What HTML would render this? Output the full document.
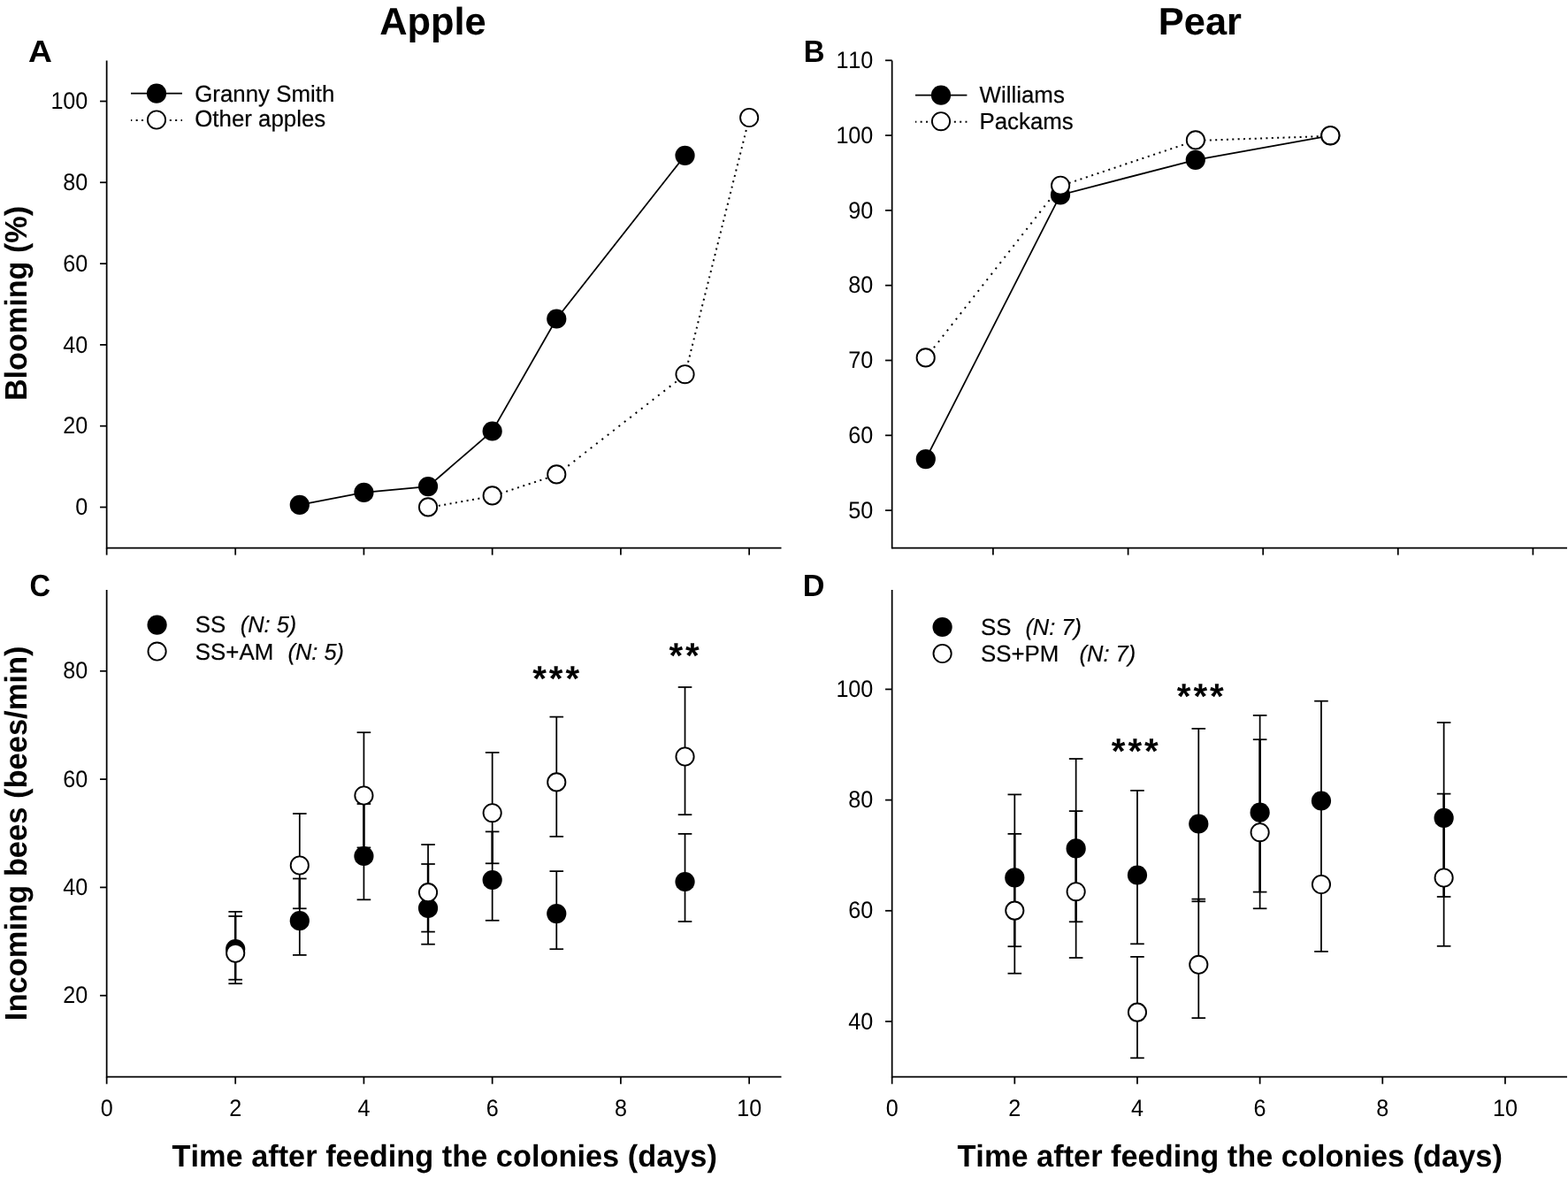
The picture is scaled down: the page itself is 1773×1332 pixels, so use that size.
<!DOCTYPE html>
<html lang="en">
<head>
<meta charset="utf-8">
<title>Blooming and incoming bees - Apple and Pear</title>
<style>
html,body{margin:0;padding:0;background:#fff;}
body{width:1773px;height:1332px;overflow:hidden;}
svg{display:block;font-family:"Liberation Sans", Arial, Helvetica, sans-serif;}
svg text{fill:#000;font-kerning:none;font-variant-ligatures:none;text-rendering:geometricPrecision;}
</style>
</head>
<body>
<svg width="1773" height="1332" viewBox="0 0 1773 1332">
<rect x="0" y="0" width="1773" height="1332" fill="#fff"/>
<line x1="120.65" y1="68.40" x2="120.65" y2="620.48" stroke="#000" stroke-width="1.75" />
<line x1="120.65" y1="619.60" x2="883.50" y2="619.60" stroke="#000" stroke-width="1.75" />
<line x1="113.05" y1="573.50" x2="120.65" y2="573.50" stroke="#000" stroke-width="1.75" />
<text transform="translate(99.15,582.15) scale(0.936,1)" font-size="26.9" text-anchor="end">0</text>
<line x1="113.05" y1="481.70" x2="120.65" y2="481.70" stroke="#000" stroke-width="1.75" />
<text transform="translate(99.15,490.35) scale(0.936,1)" font-size="26.9" text-anchor="end" letter-spacing="-0.1">20</text>
<line x1="113.05" y1="389.90" x2="120.65" y2="389.90" stroke="#000" stroke-width="1.75" />
<text transform="translate(99.15,398.55) scale(0.936,1)" font-size="26.9" text-anchor="end" letter-spacing="-0.1">40</text>
<line x1="113.05" y1="298.10" x2="120.65" y2="298.10" stroke="#000" stroke-width="1.75" />
<text transform="translate(99.15,306.75) scale(0.936,1)" font-size="26.9" text-anchor="end" letter-spacing="-0.1">60</text>
<line x1="113.05" y1="206.30" x2="120.65" y2="206.30" stroke="#000" stroke-width="1.75" />
<text transform="translate(99.15,214.95) scale(0.936,1)" font-size="26.9" text-anchor="end" letter-spacing="-0.1">80</text>
<line x1="113.05" y1="114.50" x2="120.65" y2="114.50" stroke="#000" stroke-width="1.75" />
<text transform="translate(99.15,123.15) scale(0.936,1)" font-size="26.9" text-anchor="end" letter-spacing="-0.1">100</text>
<line x1="120.65" y1="619.60" x2="120.65" y2="627.60" stroke="#000" stroke-width="1.75" />
<line x1="266.19" y1="619.60" x2="266.19" y2="627.60" stroke="#000" stroke-width="1.75" />
<line x1="411.43" y1="619.60" x2="411.43" y2="627.60" stroke="#000" stroke-width="1.75" />
<line x1="556.67" y1="619.60" x2="556.67" y2="627.60" stroke="#000" stroke-width="1.75" />
<line x1="701.91" y1="619.60" x2="701.91" y2="627.60" stroke="#000" stroke-width="1.75" />
<line x1="847.15" y1="619.60" x2="847.15" y2="627.60" stroke="#000" stroke-width="1.75" />
<polyline points="338.81,570.90 411.43,556.90 484.05,550.10 556.67,487.50 629.29,360.50 774.53,175.80" fill="none" stroke="#000" stroke-width="1.75"/>
<line x1="484.05" y1="574.00" x2="556.67" y2="561.00" stroke="#000" stroke-width="2.0" stroke-dasharray="2.0 4.461" stroke-dashoffset="0.939"/>
<line x1="556.67" y1="561.00" x2="629.29" y2="537.00" stroke="#000" stroke-width="2.0" stroke-dasharray="2.0 4.698" stroke-dashoffset="-3.013"/>
<line x1="629.29" y1="537.00" x2="774.53" y2="423.80" stroke="#000" stroke-width="2.0" stroke-dasharray="2.0 6.064" stroke-dashoffset="-0.357"/>
<line x1="774.53" y1="423.80" x2="847.15" y2="133.60" stroke="#000" stroke-width="2.0" stroke-dasharray="2.0 4.556" stroke-dashoffset="-1.371"/>
<circle cx="338.81" cy="570.90" r="11.1" fill="#000"/>
<circle cx="411.43" cy="556.90" r="11.1" fill="#000"/>
<circle cx="484.05" cy="550.10" r="11.1" fill="#000"/>
<circle cx="556.67" cy="487.50" r="11.1" fill="#000"/>
<circle cx="629.29" cy="360.50" r="11.1" fill="#000"/>
<circle cx="774.53" cy="175.80" r="11.1" fill="#000"/>
<circle cx="484.05" cy="573.40" r="10.1" fill="#fff" stroke="#000" stroke-width="1.9"/>
<circle cx="556.67" cy="560.40" r="10.1" fill="#fff" stroke="#000" stroke-width="1.9"/>
<circle cx="629.29" cy="536.40" r="10.1" fill="#fff" stroke="#000" stroke-width="1.9"/>
<circle cx="774.53" cy="423.20" r="10.1" fill="#fff" stroke="#000" stroke-width="1.9"/>
<circle cx="847.15" cy="133.00" r="10.1" fill="#fff" stroke="#000" stroke-width="1.9"/>
<line x1="148.00" y1="105.70" x2="206.00" y2="105.70" stroke="#000" stroke-width="1.75" />
<circle cx="177.00" cy="105.70" r="11.1" fill="#000"/>
<line x1="148.00" y1="136.10" x2="206.00" y2="136.10" stroke="#000" stroke-width="2.0" stroke-dasharray="2.0 4.360" stroke-dashoffset="0.700"/>
<circle cx="177.00" cy="135.50" r="10.1" fill="#fff" stroke="#000" stroke-width="1.9"/>
<text transform="translate(220.20,114.70) scale(0.9875,1)" font-size="26.2" stroke="#000" stroke-width="0.2">Granny Smith</text>
<text transform="translate(220.20,143.30) scale(0.9875,1)" font-size="26.2" stroke="#000" stroke-width="0.2">Other apples</text>
<line x1="1008.65" y1="68.40" x2="1008.65" y2="620.48" stroke="#000" stroke-width="1.75" />
<line x1="1008.65" y1="619.60" x2="1772.00" y2="619.60" stroke="#000" stroke-width="1.75" />
<line x1="1001.05" y1="577.10" x2="1008.65" y2="577.10" stroke="#000" stroke-width="1.75" />
<text transform="translate(987.15,585.75) scale(0.936,1)" font-size="26.9" text-anchor="end" letter-spacing="-0.1">50</text>
<line x1="1001.05" y1="492.30" x2="1008.65" y2="492.30" stroke="#000" stroke-width="1.75" />
<text transform="translate(987.15,500.95) scale(0.936,1)" font-size="26.9" text-anchor="end" letter-spacing="-0.1">60</text>
<line x1="1001.05" y1="407.50" x2="1008.65" y2="407.50" stroke="#000" stroke-width="1.75" />
<text transform="translate(987.15,416.15) scale(0.936,1)" font-size="26.9" text-anchor="end" letter-spacing="-0.1">70</text>
<line x1="1001.05" y1="322.70" x2="1008.65" y2="322.70" stroke="#000" stroke-width="1.75" />
<text transform="translate(987.15,331.35) scale(0.936,1)" font-size="26.9" text-anchor="end" letter-spacing="-0.1">80</text>
<line x1="1001.05" y1="237.90" x2="1008.65" y2="237.90" stroke="#000" stroke-width="1.75" />
<text transform="translate(987.15,246.55) scale(0.936,1)" font-size="26.9" text-anchor="end" letter-spacing="-0.1">90</text>
<line x1="1001.05" y1="153.10" x2="1008.65" y2="153.10" stroke="#000" stroke-width="1.75" />
<text transform="translate(987.15,161.75) scale(0.936,1)" font-size="26.9" text-anchor="end" letter-spacing="-0.1">100</text>
<line x1="1001.05" y1="68.30" x2="1008.65" y2="68.30" stroke="#000" stroke-width="1.75" />
<text transform="translate(987.15,76.95) scale(0.936,1)" font-size="26.9" text-anchor="end" letter-spacing="-0.1">110</text>
<line x1="1122.90" y1="619.60" x2="1122.90" y2="627.60" stroke="#000" stroke-width="1.75" />
<line x1="1275.60" y1="619.60" x2="1275.60" y2="627.60" stroke="#000" stroke-width="1.75" />
<line x1="1428.20" y1="619.60" x2="1428.20" y2="627.60" stroke="#000" stroke-width="1.75" />
<line x1="1580.80" y1="619.60" x2="1580.80" y2="627.60" stroke="#000" stroke-width="1.75" />
<line x1="1733.40" y1="619.60" x2="1733.40" y2="627.60" stroke="#000" stroke-width="1.75" />
<polyline points="1046.80,519.10 1199.00,220.40 1351.80,180.80 1504.30,153.30" fill="none" stroke="#000" stroke-width="1.75"/>
<line x1="1046.70" y1="405.00" x2="1199.10" y2="210.30" stroke="#000" stroke-width="2.0" stroke-dasharray="2.0 6.077" stroke-dashoffset="1.178"/>
<line x1="1199.10" y1="210.30" x2="1351.90" y2="159.00" stroke="#000" stroke-width="2.0" stroke-dasharray="2.0 4.709" stroke-dashoffset="-3.473"/>
<line x1="1351.90" y1="159.00" x2="1504.30" y2="153.80" stroke="#000" stroke-width="2.0" stroke-dasharray="2.0 4.364" stroke-dashoffset="-3.222"/>
<circle cx="1046.80" cy="519.10" r="11.1" fill="#000"/>
<circle cx="1199.00" cy="220.40" r="11.1" fill="#000"/>
<circle cx="1351.80" cy="180.80" r="11.1" fill="#000"/>
<circle cx="1504.30" cy="153.30" r="11.1" fill="#000"/>
<circle cx="1046.70" cy="404.40" r="10.1" fill="#fff" stroke="#000" stroke-width="1.9"/>
<circle cx="1199.10" cy="209.70" r="10.1" fill="#fff" stroke="#000" stroke-width="1.9"/>
<circle cx="1351.90" cy="158.40" r="10.1" fill="#fff" stroke="#000" stroke-width="1.9"/>
<circle cx="1504.30" cy="153.20" r="10.1" fill="#fff" stroke="#000" stroke-width="1.9"/>
<line x1="1035.00" y1="107.70" x2="1093.40" y2="107.70" stroke="#000" stroke-width="1.75" />
<circle cx="1064.00" cy="107.70" r="11.1" fill="#000"/>
<line x1="1035.00" y1="137.80" x2="1093.40" y2="137.80" stroke="#000" stroke-width="2.0" stroke-dasharray="2.0 4.360" stroke-dashoffset="0.700"/>
<circle cx="1064.00" cy="137.20" r="10.1" fill="#fff" stroke="#000" stroke-width="1.9"/>
<text transform="translate(1107.60,116.40) scale(0.9875,1)" font-size="26.2" stroke="#000" stroke-width="0.2">Williams</text>
<text transform="translate(1107.40,145.80) scale(0.9875,1)" font-size="26.2" stroke="#000" stroke-width="0.2">Packams</text>
<line x1="120.65" y1="666.90" x2="120.65" y2="1218.58" stroke="#000" stroke-width="1.75" />
<line x1="120.65" y1="1217.70" x2="883.50" y2="1217.70" stroke="#000" stroke-width="1.75" />
<line x1="113.05" y1="1125.70" x2="120.65" y2="1125.70" stroke="#000" stroke-width="1.75" />
<text transform="translate(99.15,1134.35) scale(0.936,1)" font-size="26.9" text-anchor="end" letter-spacing="-0.1">20</text>
<line x1="113.05" y1="1003.40" x2="120.65" y2="1003.40" stroke="#000" stroke-width="1.75" />
<text transform="translate(99.15,1012.05) scale(0.936,1)" font-size="26.9" text-anchor="end" letter-spacing="-0.1">40</text>
<line x1="113.05" y1="881.10" x2="120.65" y2="881.10" stroke="#000" stroke-width="1.75" />
<text transform="translate(99.15,889.75) scale(0.936,1)" font-size="26.9" text-anchor="end" letter-spacing="-0.1">60</text>
<line x1="113.05" y1="758.80" x2="120.65" y2="758.80" stroke="#000" stroke-width="1.75" />
<text transform="translate(99.15,767.45) scale(0.936,1)" font-size="26.9" text-anchor="end" letter-spacing="-0.1">80</text>
<line x1="120.65" y1="1217.70" x2="120.65" y2="1225.70" stroke="#000" stroke-width="1.75" />
<text transform="translate(120.65,1262.00) scale(0.936,1)" font-size="26.9" text-anchor="middle">0</text>
<line x1="266.19" y1="1217.70" x2="266.19" y2="1225.70" stroke="#000" stroke-width="1.75" />
<text transform="translate(266.19,1262.00) scale(0.936,1)" font-size="26.9" text-anchor="middle">2</text>
<line x1="411.43" y1="1217.70" x2="411.43" y2="1225.70" stroke="#000" stroke-width="1.75" />
<text transform="translate(411.43,1262.00) scale(0.936,1)" font-size="26.9" text-anchor="middle">4</text>
<line x1="556.67" y1="1217.70" x2="556.67" y2="1225.70" stroke="#000" stroke-width="1.75" />
<text transform="translate(556.67,1262.00) scale(0.936,1)" font-size="26.9" text-anchor="middle">6</text>
<line x1="701.91" y1="1217.70" x2="701.91" y2="1225.70" stroke="#000" stroke-width="1.75" />
<text transform="translate(701.91,1262.00) scale(0.936,1)" font-size="26.9" text-anchor="middle">8</text>
<line x1="847.15" y1="1217.70" x2="847.15" y2="1225.70" stroke="#000" stroke-width="1.75" />
<text transform="translate(847.15,1262.00) scale(0.936,1)" font-size="26.9" text-anchor="middle" letter-spacing="-0.1">10</text>
<line x1="266.19" y1="1030.90" x2="266.19" y2="1112.20" stroke="#000" stroke-width="1.75" />
<line x1="266.19" y1="1036.00" x2="266.19" y2="1107.70" stroke="#000" stroke-width="2.5" />
<line x1="258.39" y1="1030.90" x2="273.99" y2="1030.90" stroke="#000" stroke-width="1.75" />
<line x1="258.39" y1="1036.00" x2="273.99" y2="1036.00" stroke="#000" stroke-width="1.75" />
<line x1="258.39" y1="1107.70" x2="273.99" y2="1107.70" stroke="#000" stroke-width="1.75" />
<line x1="258.39" y1="1112.20" x2="273.99" y2="1112.20" stroke="#000" stroke-width="1.75" />
<line x1="338.81" y1="920.00" x2="338.81" y2="1079.90" stroke="#000" stroke-width="1.75" />
<line x1="338.81" y1="993.50" x2="338.81" y2="1027.30" stroke="#000" stroke-width="2.5" />
<line x1="331.01" y1="920.00" x2="346.61" y2="920.00" stroke="#000" stroke-width="1.75" />
<line x1="331.01" y1="993.50" x2="346.61" y2="993.50" stroke="#000" stroke-width="1.75" />
<line x1="331.01" y1="1027.30" x2="346.61" y2="1027.30" stroke="#000" stroke-width="1.75" />
<line x1="331.01" y1="1079.90" x2="346.61" y2="1079.90" stroke="#000" stroke-width="1.75" />
<line x1="411.43" y1="828.20" x2="411.43" y2="1017.30" stroke="#000" stroke-width="1.75" />
<line x1="411.43" y1="909.00" x2="411.43" y2="958.40" stroke="#000" stroke-width="2.5" />
<line x1="403.63" y1="828.20" x2="419.23" y2="828.20" stroke="#000" stroke-width="1.75" />
<line x1="403.63" y1="909.00" x2="419.23" y2="909.00" stroke="#000" stroke-width="1.75" />
<line x1="403.63" y1="958.40" x2="419.23" y2="958.40" stroke="#000" stroke-width="1.75" />
<line x1="403.63" y1="1017.30" x2="419.23" y2="1017.30" stroke="#000" stroke-width="1.75" />
<line x1="484.05" y1="955.00" x2="484.05" y2="1067.70" stroke="#000" stroke-width="1.75" />
<line x1="484.05" y1="977.00" x2="484.05" y2="1053.60" stroke="#000" stroke-width="2.5" />
<line x1="476.25" y1="955.00" x2="491.85" y2="955.00" stroke="#000" stroke-width="1.75" />
<line x1="476.25" y1="977.00" x2="491.85" y2="977.00" stroke="#000" stroke-width="1.75" />
<line x1="476.25" y1="1053.60" x2="491.85" y2="1053.60" stroke="#000" stroke-width="1.75" />
<line x1="476.25" y1="1067.70" x2="491.85" y2="1067.70" stroke="#000" stroke-width="1.75" />
<line x1="556.67" y1="850.90" x2="556.67" y2="1040.80" stroke="#000" stroke-width="1.75" />
<line x1="556.67" y1="940.40" x2="556.67" y2="976.30" stroke="#000" stroke-width="2.5" />
<line x1="548.87" y1="850.90" x2="564.47" y2="850.90" stroke="#000" stroke-width="1.75" />
<line x1="548.87" y1="940.40" x2="564.47" y2="940.40" stroke="#000" stroke-width="1.75" />
<line x1="548.87" y1="976.30" x2="564.47" y2="976.30" stroke="#000" stroke-width="1.75" />
<line x1="548.87" y1="1040.80" x2="564.47" y2="1040.80" stroke="#000" stroke-width="1.75" />
<line x1="629.29" y1="810.60" x2="629.29" y2="945.90" stroke="#000" stroke-width="1.75" />
<line x1="629.29" y1="985.10" x2="629.29" y2="1073.20" stroke="#000" stroke-width="1.75" />
<line x1="621.49" y1="810.60" x2="637.09" y2="810.60" stroke="#000" stroke-width="1.75" />
<line x1="621.49" y1="945.90" x2="637.09" y2="945.90" stroke="#000" stroke-width="1.75" />
<line x1="621.49" y1="985.10" x2="637.09" y2="985.10" stroke="#000" stroke-width="1.75" />
<line x1="621.49" y1="1073.20" x2="637.09" y2="1073.20" stroke="#000" stroke-width="1.75" />
<line x1="774.53" y1="777.00" x2="774.53" y2="921.20" stroke="#000" stroke-width="1.75" />
<line x1="774.53" y1="942.90" x2="774.53" y2="1042.00" stroke="#000" stroke-width="1.75" />
<line x1="766.73" y1="777.00" x2="782.33" y2="777.00" stroke="#000" stroke-width="1.75" />
<line x1="766.73" y1="921.20" x2="782.33" y2="921.20" stroke="#000" stroke-width="1.75" />
<line x1="766.73" y1="942.90" x2="782.33" y2="942.90" stroke="#000" stroke-width="1.75" />
<line x1="766.73" y1="1042.00" x2="782.33" y2="1042.00" stroke="#000" stroke-width="1.75" />
<circle cx="266.19" cy="1073.10" r="11.1" fill="#000"/>
<circle cx="338.81" cy="1041.20" r="11.1" fill="#000"/>
<circle cx="411.43" cy="968.00" r="11.1" fill="#000"/>
<circle cx="484.05" cy="1026.90" r="11.1" fill="#000"/>
<circle cx="556.67" cy="995.00" r="11.1" fill="#000"/>
<circle cx="629.29" cy="1033.10" r="11.1" fill="#000"/>
<circle cx="774.53" cy="997.00" r="11.1" fill="#000"/>
<circle cx="266.19" cy="1077.80" r="10.1" fill="#fff" stroke="#000" stroke-width="1.9"/>
<circle cx="338.81" cy="978.50" r="10.1" fill="#fff" stroke="#000" stroke-width="1.9"/>
<circle cx="411.43" cy="899.50" r="10.1" fill="#fff" stroke="#000" stroke-width="1.9"/>
<circle cx="484.05" cy="1009.10" r="10.1" fill="#fff" stroke="#000" stroke-width="1.9"/>
<circle cx="556.67" cy="919.20" r="10.1" fill="#fff" stroke="#000" stroke-width="1.9"/>
<circle cx="629.29" cy="884.40" r="10.1" fill="#fff" stroke="#000" stroke-width="1.9"/>
<circle cx="774.53" cy="855.50" r="10.1" fill="#fff" stroke="#000" stroke-width="1.9"/>
<circle cx="177.60" cy="706.55" r="11.1" fill="#000"/>
<circle cx="177.60" cy="736.55" r="10.1" fill="#fff" stroke="#000" stroke-width="1.9"/>
<text transform="translate(220.85,715.30) scale(0.9875,1)" font-size="26.2" stroke="#000" stroke-width="0.2">SS</text>
<text transform="translate(271.70,715.30) scale(0.9707125,1)" font-size="26.2" font-style="italic" stroke="#000" stroke-width="0.2">(N: 5)</text>
<text transform="translate(220.85,745.50) scale(0.9875,1)" font-size="26.2" stroke="#000" stroke-width="0.2">SS+AM</text>
<text transform="translate(325.50,745.50) scale(0.9707125,1)" font-size="26.2" font-style="italic" stroke="#000" stroke-width="0.2">(N: 5)</text>
<text x="602.20" y="781.03" font-size="40.3" font-weight="bold" letter-spacing="2.95">***</text>
<text x="756.40" y="754.63" font-size="40.3" font-weight="bold" letter-spacing="2.95">**</text>
<line x1="1008.65" y1="666.90" x2="1008.65" y2="1218.58" stroke="#000" stroke-width="1.75" />
<line x1="1008.65" y1="1217.70" x2="1772.00" y2="1217.70" stroke="#000" stroke-width="1.75" />
<line x1="1001.05" y1="1155.00" x2="1008.65" y2="1155.00" stroke="#000" stroke-width="1.75" />
<text transform="translate(987.15,1163.65) scale(0.936,1)" font-size="26.9" text-anchor="end" letter-spacing="-0.1">40</text>
<line x1="1001.05" y1="1029.80" x2="1008.65" y2="1029.80" stroke="#000" stroke-width="1.75" />
<text transform="translate(987.15,1038.45) scale(0.936,1)" font-size="26.9" text-anchor="end" letter-spacing="-0.1">60</text>
<line x1="1001.05" y1="904.60" x2="1008.65" y2="904.60" stroke="#000" stroke-width="1.75" />
<text transform="translate(987.15,913.25) scale(0.936,1)" font-size="26.9" text-anchor="end" letter-spacing="-0.1">80</text>
<line x1="1001.05" y1="779.40" x2="1008.65" y2="779.40" stroke="#000" stroke-width="1.75" />
<text transform="translate(987.15,788.05) scale(0.936,1)" font-size="26.9" text-anchor="end" letter-spacing="-0.1">100</text>
<line x1="1008.65" y1="1217.70" x2="1008.65" y2="1225.70" stroke="#000" stroke-width="1.75" />
<text transform="translate(1008.65,1262.00) scale(0.936,1)" font-size="26.9" text-anchor="middle">0</text>
<line x1="1147.31" y1="1217.70" x2="1147.31" y2="1225.70" stroke="#000" stroke-width="1.75" />
<text transform="translate(1147.31,1262.00) scale(0.936,1)" font-size="26.9" text-anchor="middle">2</text>
<line x1="1285.97" y1="1217.70" x2="1285.97" y2="1225.70" stroke="#000" stroke-width="1.75" />
<text transform="translate(1285.97,1262.00) scale(0.936,1)" font-size="26.9" text-anchor="middle">4</text>
<line x1="1424.63" y1="1217.70" x2="1424.63" y2="1225.70" stroke="#000" stroke-width="1.75" />
<text transform="translate(1424.63,1262.00) scale(0.936,1)" font-size="26.9" text-anchor="middle">6</text>
<line x1="1563.29" y1="1217.70" x2="1563.29" y2="1225.70" stroke="#000" stroke-width="1.75" />
<text transform="translate(1563.29,1262.00) scale(0.936,1)" font-size="26.9" text-anchor="middle">8</text>
<line x1="1701.95" y1="1217.70" x2="1701.95" y2="1225.70" stroke="#000" stroke-width="1.75" />
<text transform="translate(1701.95,1262.00) scale(0.936,1)" font-size="26.9" text-anchor="middle" letter-spacing="-0.1">10</text>
<line x1="1147.31" y1="898.40" x2="1147.31" y2="1100.70" stroke="#000" stroke-width="1.75" />
<line x1="1147.31" y1="942.90" x2="1147.31" y2="1070.20" stroke="#000" stroke-width="2.5" />
<line x1="1139.51" y1="898.40" x2="1155.11" y2="898.40" stroke="#000" stroke-width="1.75" />
<line x1="1139.51" y1="942.90" x2="1155.11" y2="942.90" stroke="#000" stroke-width="1.75" />
<line x1="1139.51" y1="1070.20" x2="1155.11" y2="1070.20" stroke="#000" stroke-width="1.75" />
<line x1="1139.51" y1="1100.70" x2="1155.11" y2="1100.70" stroke="#000" stroke-width="1.75" />
<line x1="1216.64" y1="858.00" x2="1216.64" y2="1083.00" stroke="#000" stroke-width="1.75" />
<line x1="1216.64" y1="917.10" x2="1216.64" y2="1042.30" stroke="#000" stroke-width="2.5" />
<line x1="1208.84" y1="858.00" x2="1224.44" y2="858.00" stroke="#000" stroke-width="1.75" />
<line x1="1208.84" y1="917.10" x2="1224.44" y2="917.10" stroke="#000" stroke-width="1.75" />
<line x1="1208.84" y1="1042.30" x2="1224.44" y2="1042.30" stroke="#000" stroke-width="1.75" />
<line x1="1208.84" y1="1083.00" x2="1224.44" y2="1083.00" stroke="#000" stroke-width="1.75" />
<line x1="1285.97" y1="893.90" x2="1285.97" y2="1067.30" stroke="#000" stroke-width="1.75" />
<line x1="1285.97" y1="1081.90" x2="1285.97" y2="1196.30" stroke="#000" stroke-width="1.75" />
<line x1="1278.17" y1="893.90" x2="1293.77" y2="893.90" stroke="#000" stroke-width="1.75" />
<line x1="1278.17" y1="1067.30" x2="1293.77" y2="1067.30" stroke="#000" stroke-width="1.75" />
<line x1="1278.17" y1="1081.90" x2="1293.77" y2="1081.90" stroke="#000" stroke-width="1.75" />
<line x1="1278.17" y1="1196.30" x2="1293.77" y2="1196.30" stroke="#000" stroke-width="1.75" />
<line x1="1355.30" y1="823.90" x2="1355.30" y2="1151.10" stroke="#000" stroke-width="1.75" />
<line x1="1355.30" y1="1016.60" x2="1355.30" y2="1019.30" stroke="#000" stroke-width="2.5" />
<line x1="1347.50" y1="823.90" x2="1363.10" y2="823.90" stroke="#000" stroke-width="1.75" />
<line x1="1347.50" y1="1016.60" x2="1363.10" y2="1016.60" stroke="#000" stroke-width="1.75" />
<line x1="1347.50" y1="1019.30" x2="1363.10" y2="1019.30" stroke="#000" stroke-width="1.75" />
<line x1="1347.50" y1="1151.10" x2="1363.10" y2="1151.10" stroke="#000" stroke-width="1.75" />
<line x1="1424.63" y1="808.90" x2="1424.63" y2="1027.30" stroke="#000" stroke-width="1.75" />
<line x1="1424.63" y1="836.20" x2="1424.63" y2="1008.60" stroke="#000" stroke-width="2.5" />
<line x1="1416.83" y1="808.90" x2="1432.43" y2="808.90" stroke="#000" stroke-width="1.75" />
<line x1="1416.83" y1="836.20" x2="1432.43" y2="836.20" stroke="#000" stroke-width="1.75" />
<line x1="1416.83" y1="1008.60" x2="1432.43" y2="1008.60" stroke="#000" stroke-width="1.75" />
<line x1="1416.83" y1="1027.30" x2="1432.43" y2="1027.30" stroke="#000" stroke-width="1.75" />
<line x1="1493.96" y1="792.70" x2="1493.96" y2="1075.90" stroke="#000" stroke-width="1.75" />
<line x1="1486.16" y1="792.70" x2="1501.76" y2="792.70" stroke="#000" stroke-width="1.75" />
<line x1="1486.16" y1="1075.90" x2="1501.76" y2="1075.90" stroke="#000" stroke-width="1.75" />
<line x1="1632.62" y1="817.00" x2="1632.62" y2="1069.80" stroke="#000" stroke-width="1.75" />
<line x1="1632.62" y1="897.60" x2="1632.62" y2="1014.00" stroke="#000" stroke-width="2.5" />
<line x1="1624.82" y1="817.00" x2="1640.42" y2="817.00" stroke="#000" stroke-width="1.75" />
<line x1="1624.82" y1="897.60" x2="1640.42" y2="897.60" stroke="#000" stroke-width="1.75" />
<line x1="1624.82" y1="1014.00" x2="1640.42" y2="1014.00" stroke="#000" stroke-width="1.75" />
<line x1="1624.82" y1="1069.80" x2="1640.42" y2="1069.80" stroke="#000" stroke-width="1.75" />
<circle cx="1147.31" cy="992.40" r="11.1" fill="#000"/>
<circle cx="1216.64" cy="959.40" r="11.1" fill="#000"/>
<circle cx="1285.97" cy="989.50" r="11.1" fill="#000"/>
<circle cx="1355.30" cy="931.50" r="11.1" fill="#000"/>
<circle cx="1424.63" cy="918.70" r="11.1" fill="#000"/>
<circle cx="1493.96" cy="905.50" r="11.1" fill="#000"/>
<circle cx="1632.62" cy="924.90" r="11.1" fill="#000"/>
<circle cx="1147.31" cy="1029.60" r="10.1" fill="#fff" stroke="#000" stroke-width="1.9"/>
<circle cx="1216.64" cy="1008.20" r="10.1" fill="#fff" stroke="#000" stroke-width="1.9"/>
<circle cx="1285.97" cy="1144.60" r="10.1" fill="#fff" stroke="#000" stroke-width="1.9"/>
<circle cx="1355.30" cy="1090.80" r="10.1" fill="#fff" stroke="#000" stroke-width="1.9"/>
<circle cx="1424.63" cy="941.20" r="10.1" fill="#fff" stroke="#000" stroke-width="1.9"/>
<circle cx="1493.96" cy="1000.00" r="10.1" fill="#fff" stroke="#000" stroke-width="1.9"/>
<circle cx="1632.62" cy="992.50" r="10.1" fill="#fff" stroke="#000" stroke-width="1.9"/>
<circle cx="1065.60" cy="709.00" r="11.1" fill="#000"/>
<circle cx="1065.60" cy="739.00" r="10.1" fill="#fff" stroke="#000" stroke-width="1.9"/>
<text transform="translate(1108.90,717.60) scale(0.9875,1)" font-size="26.2" stroke="#000" stroke-width="0.2">SS</text>
<text transform="translate(1159.40,717.60) scale(0.9707125,1)" font-size="26.2" font-style="italic" stroke="#000" stroke-width="0.2">(N: 7)</text>
<text transform="translate(1108.90,747.60) scale(0.9875,1)" font-size="26.2" stroke="#000" stroke-width="0.2">SS+PM</text>
<text transform="translate(1220.60,747.60) scale(0.9707125,1)" font-size="26.2" font-style="italic" stroke="#000" stroke-width="0.2">(N: 7)</text>
<text x="1256.80" y="862.93" font-size="40.3" font-weight="bold" letter-spacing="2.95">***</text>
<text x="1330.80" y="800.93" font-size="40.3" font-weight="bold" letter-spacing="2.95">***</text>
<text x="489.40" y="38.80" font-size="43.4" font-weight="bold" text-anchor="middle">Apple</text>
<text x="1356.90" y="38.80" font-size="43.4" font-weight="bold" text-anchor="middle">Pear</text>
<text transform="translate(31.93,69.90) scale(1.068,1)" font-size="34.9" font-weight="bold">A</text>
<text transform="translate(908.80,69.90) scale(0.944,1)" font-size="34.9" font-weight="bold">B</text>
<text transform="translate(33.50,673.55) scale(0.934,1)" font-size="34.9" font-weight="bold">C</text>
<text transform="translate(907.80,673.80) scale(0.98,1)" font-size="34.9" font-weight="bold">D</text>
<text transform="translate(502.65,1318.70) scale(0.987,1)" font-size="34.8" font-weight="bold" text-anchor="middle">Time after feeding the colonies (days)</text>
<text transform="translate(1390.60,1318.70) scale(0.987,1)" font-size="34.8" font-weight="bold" text-anchor="middle">Time after feeding the colonies (days)</text>
<text transform="translate(29.80,343.00) rotate(-90) scale(0.976,1)" font-size="35.0" font-weight="bold" text-anchor="middle">Blooming (%)</text>
<text transform="translate(29.80,942.35) rotate(-90) scale(0.9857,1)" font-size="35.0" font-weight="bold" text-anchor="middle">Incoming bees (bees/min)</text>
</svg>
</body>
</html>
